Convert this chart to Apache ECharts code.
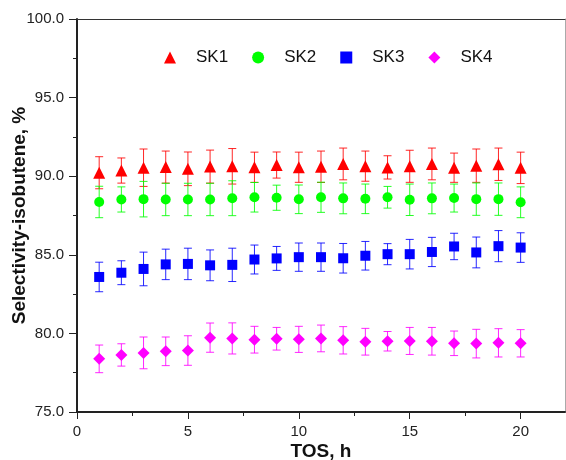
<!DOCTYPE html>
<html>
<head>
<meta charset="utf-8">
<script src="https://cdn.jsdelivr.net/npm/echarts@6/dist/echarts.min.js"></script>
<style>
  html, body { margin: 0; padding: 0; background: #fff; }
  #chart { width: 566px; height: 460px; }
</style>
</head>
<body>
<div id="chart"></div>
<script>
// Time on stream, h
const tos = [1, 2, 3, 4, 5, 6, 7, 8, 9, 10, 11, 12, 13, 14, 15, 16, 17, 18, 19, 20];

// Isobutene selectivity (%) and its error (±) for each catalyst
const sk1 = [90.22, 90.36, 90.54, 90.58, 90.47, 90.61, 90.63, 90.57, 90.71, 90.57, 90.60, 90.78, 90.64, 90.56, 90.63, 90.78, 90.54, 90.67, 90.76, 90.53];
const sk1Err = [1.02, 0.80, 1.19, 1.02, 1.07, 1.05, 1.13, 0.96, 0.83, 0.96, 1.00, 1.01, 0.96, 0.74, 1.02, 1.01, 0.93, 1.06, 1.03, 1.00];

const sk2 = [88.36, 88.52, 88.54, 88.52, 88.52, 88.52, 88.60, 88.66, 88.63, 88.53, 88.66, 88.59, 88.56, 88.66, 88.50, 88.59, 88.61, 88.54, 88.54, 88.34];
const sk2Err = [1.00, 0.80, 1.13, 1.03, 1.03, 1.03, 1.11, 0.94, 0.80, 0.91, 0.96, 0.98, 0.94, 0.69, 1.00, 0.98, 0.89, 1.03, 1.03, 0.98];

const sk3 = [83.59, 83.86, 84.10, 84.39, 84.42, 84.33, 84.36, 84.70, 84.77, 84.85, 84.85, 84.78, 84.94, 85.04, 85.04, 85.18, 85.53, 85.15, 85.55, 85.46];
const sk3Err = [0.94, 0.76, 1.07, 0.97, 1.00, 0.98, 1.06, 0.92, 0.76, 0.90, 0.90, 0.94, 0.91, 0.67, 0.94, 0.93, 0.84, 0.98, 0.99, 0.94];

const sk4 = [78.38, 78.63, 78.76, 78.86, 78.91, 79.73, 79.68, 79.60, 79.66, 79.62, 79.68, 79.56, 79.47, 79.50, 79.52, 79.50, 79.37, 79.35, 79.40, 79.37];
const sk4Err = [0.88, 0.71, 1.01, 0.91, 0.94, 0.93, 0.99, 0.85, 0.72, 0.83, 0.85, 0.87, 0.85, 0.62, 0.86, 0.88, 0.78, 0.91, 0.90, 0.87];

// Axis ticks
const xMajorTicks = [0, 5, 10, 15, 20];
const xMinorTicks = [2.5, 7.5, 12.5, 17.5];

const FONT = '"Liberation Sans", Arial, Helvetica, sans-serif';

const groups = [
  { name: 'SK1', mean: sk1, err: sk1Err, color: '#ff0000', symbol: 'triangle', size: 12 },
  { name: 'SK2', mean: sk2, err: sk2Err, color: '#00ff00', symbol: 'circle', size: 10 },
  { name: 'SK3', mean: sk3, err: sk3Err, color: '#0000ff', symbol: 'rect', size: 10 },
  { name: 'SK4', mean: sk4, err: sk4Err, color: '#ff00ff', symbol: 'diamond', size: 12 }
];

function errorBarRenderer(color) {
  return function (params, api) {
    const x = api.value(0);
    const lo = api.coord([x, api.value(1)]);
    const hi = api.coord([x, api.value(2)]);
    const cap = 4;
    const style = { stroke: color, lineWidth: 1, opacity: 0.85 };
    return {
      type: 'group',
      children: [
        { type: 'line', shape: { x1: hi[0], y1: hi[1], x2: lo[0], y2: lo[1] }, style: style },
        { type: 'line', shape: { x1: hi[0] - cap, y1: hi[1], x2: hi[0] + cap, y2: hi[1] }, style: style },
        { type: 'line', shape: { x1: lo[0] - cap, y1: lo[1], x2: lo[0] + cap, y2: lo[1] }, style: style }
      ]
    };
  };
}

const series = [];
groups.forEach(function (g) {
  series.push({
    name: g.name + '-err',
    type: 'custom',
    xAxisIndex: 0,
    yAxisIndex: 0,
    z: 2,
    silent: true,
    renderItem: errorBarRenderer(g.color),
    data: tos.map(function (t, i) { return [t, g.mean[i] - g.err[i], g.mean[i] + g.err[i]]; })
  });
});
groups.forEach(function (g) {
  series.push({
    name: g.name,
    type: 'scatter',
    xAxisIndex: 0,
    yAxisIndex: 0,
    z: 3,
    symbol: g.symbol,
    symbolSize: g.size,
    itemStyle: { color: g.color, opacity: 1 },
    data: tos.map(function (t, i) { return [t, g.mean[i]]; })
  });
});

const chart = echarts.init(document.getElementById('chart'), null, { renderer: 'canvas' });

chart.setOption({
  animation: false,
  backgroundColor: '#ffffff',
  textStyle: { fontFamily: FONT },
  grid: { left: 77, right: 1, top: 19, bottom: 48, containLabel: false, outerBoundsMode: 'none' },
  legend: {
    data: groups.map(function (g) { return g.name; }),
    left: 159,
    top: 44,
    itemWidth: 12,
    itemHeight: 12,
    itemGap: 24,
    textStyle: { fontSize: 17, color: '#111', fontFamily: FONT, padding: [0, 0, 0, 15] }
  },
  xAxis: [
    {
      type: 'value',
      min: 0,
      max: 22,
      interval: 5,
      position: 'bottom',
      name: 'TOS, h',
      nameLocation: 'middle',
      nameGap: 30,
      nameMoveOverlap: false,
      nameTextStyle: { fontSize: 19, fontWeight: 'bold', color: '#111', fontFamily: FONT },
      axisLine: { show: true, onZero: false, lineStyle: { color: '#222', width: 2 } },
      axisTick: { show: true, inside: false, length: 7, customValues: xMajorTicks, lineStyle: { color: '#222', width: 1 } },
      axisLabel: { show: true, customValues: xMajorTicks, margin: 12, fontSize: 15, color: '#222', fontFamily: FONT },
      splitLine: { show: false }
    },
    {
      // minor ticks between labelled values
      type: 'value',
      min: 0,
      max: 22,
      position: 'bottom',
      axisLine: { show: false },
      axisTick: { show: true, inside: false, length: 4, customValues: xMinorTicks, lineStyle: { color: '#222', width: 1 } },
      axisLabel: { show: false },
      splitLine: { show: false }
    },
    {
      // upper frame edge
      type: 'value',
      min: 0,
      max: 22,
      position: 'top',
      axisLine: { show: true, onZero: false, lineStyle: { color: '#333', width: 1 } },
      axisTick: { show: false },
      axisLabel: { show: false },
      splitLine: { show: false }
    }
  ],
  yAxis: [
    {
      type: 'value',
      min: 75,
      max: 100,
      interval: 5,
      position: 'left',
      name: 'Selectivity-isobutene, %',
      nameLocation: 'middle',
      nameGap: 48,
      nameMoveOverlap: false,
      nameRotate: 90,
      nameTextStyle: { fontSize: 19, fontWeight: 'bold', color: '#111', fontFamily: FONT },
      axisLine: { show: true, onZero: false, lineStyle: { color: '#222', width: 2 } },
      axisTick: { show: true, inside: false, length: 8, lineStyle: { color: '#222', width: 1 } },
      minorTick: { show: true, splitNumber: 2, length: 4, lineStyle: { color: '#222', width: 1 } },
      axisLabel: {
        margin: 13,
        fontSize: 15,
        color: '#222',
        fontFamily: FONT,
        formatter: function (v) { return v.toFixed(1); }
      },
      splitLine: { show: false }
    },
    {
      // right frame edge
      type: 'value',
      min: 75,
      max: 100,
      position: 'right',
      axisLine: { show: true, onZero: false, lineStyle: { color: '#aaa', width: 1 } },
      axisTick: { show: false },
      axisLabel: { show: false },
      splitLine: { show: false }
    }
  ],
  series: series
});
</script>
</body>
</html>
